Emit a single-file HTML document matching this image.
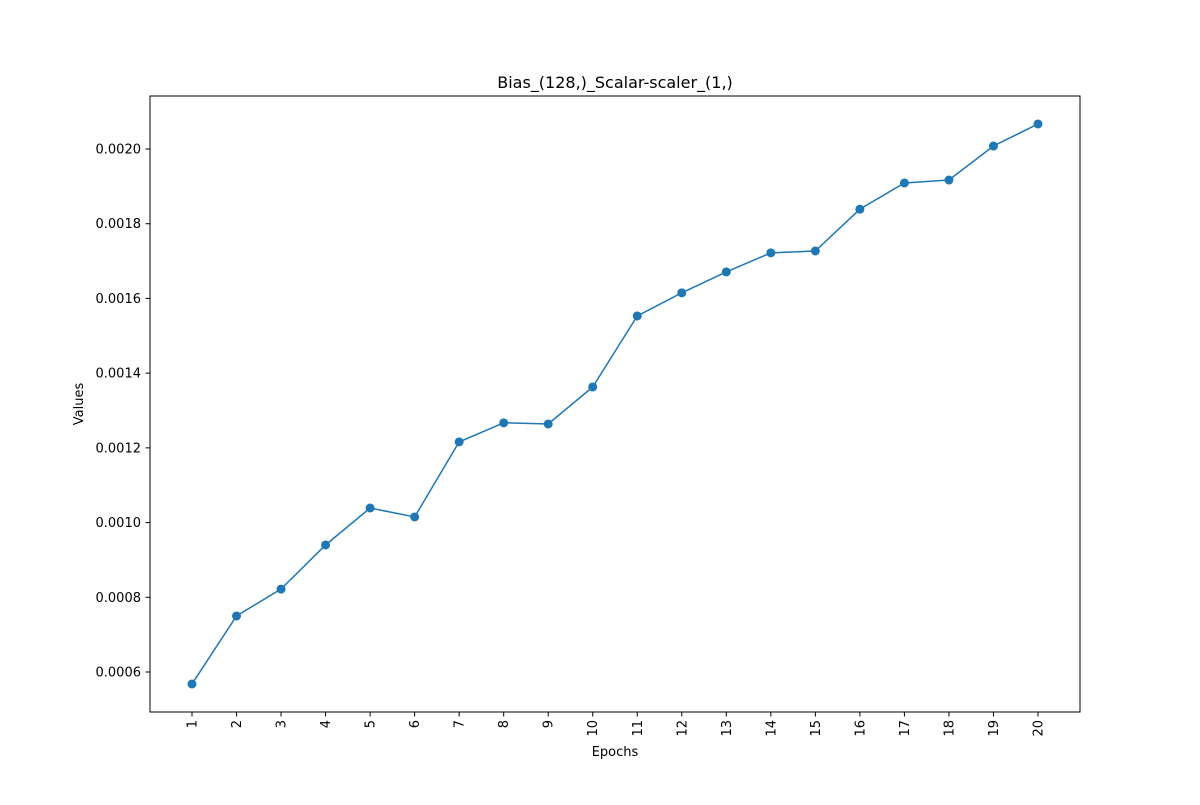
<!DOCTYPE html>
<html><head><meta charset="utf-8"><style>
body{margin:0;background:#fff;}
svg text{font-family:"DejaVu Sans","Liberation Sans",sans-serif;fill:#000;}
</style></head><body>
<svg id="chart" width="1200" height="800" xmlns="http://www.w3.org/2000/svg">
<rect width="1200" height="800" fill="#fff"/>
<text x="615" y="88" font-size="16" text-anchor="middle">Bias_(128,)_Scalar-scaler_(1,)</text>
<text x="615" y="756" font-size="13" text-anchor="middle">Epochs</text>
<text x="83" y="404" font-size="13" text-anchor="middle" transform="rotate(-90 83 404)">Values</text>
<g id="axes"></g>
<rect x="150" y="96" width="930" height="616" fill="none" stroke="#000" stroke-width="1"/>
</svg>
<script>
const epochs = [1,2,3,4,5,6,7,8,9,10,11,12,13,14,15,16,17,18,19,20];
const values = [0.000568,0.000750,0.000822,0.000940,0.001039,0.001015,0.001216,0.001267,0.001264,0.001363,0.001553,0.001615,0.001671,0.001722,0.001727,0.001839,0.001909,0.001917,0.002008,0.002067];
const yTicks = [0.0006,0.0008,0.0010,0.0012,0.0014,0.0016,0.0018,0.0020];
const yTickLabels = ["0.0006","0.0008","0.0010","0.0012","0.0014","0.0016","0.0018","0.0020"];

const NS="http://www.w3.org/2000/svg";
const g=document.getElementById('axes');
function xScale(e){return 192+(e-1)*(1038-192)/19;}
function yScale(v){return 672-(v-0.0006)/0.0002*((672-149)/7);}
function mk(tag,attrs){const el=document.createElementNS(NS,tag);for(const k in attrs)el.setAttribute(k,attrs[k]);g.appendChild(el);return el;}

yTicks.forEach((t,i)=>{
  const y=yScale(t);
  const tk=mk('line',{x1:145.5,x2:150,y1:y,y2:y,stroke:'#000'});
  
  
  const tx=mk('text',{x:141,y:y+4.5,'font-size':13,'text-anchor':'end'});
  
  
  tx.textContent=yTickLabels[i];
});
epochs.forEach(e=>{
  const x=xScale(e);
  const tk=mk('line',{x1:x,x2:x,y1:712,y2:716.5,stroke:'#000'});
  
  
  const tx=mk('text',{x:x+4.5,y:720,'font-size':13,'text-anchor':'end',transform:`rotate(-90 ${x+4.5} 720)`});
  
  
  tx.textContent=String(e);
});
const pts=epochs.map((e,i)=>xScale(e)+','+yScale(values[i])).join(' ');
const line=mk('polyline',{points:pts,fill:'none',stroke:'#1f77b4','stroke-width':1.5});


epochs.forEach((e,i)=>{
  const c=mk('circle',{cx:xScale(e),cy:yScale(values[i]),r:4.5,fill:'#1f77b4'});
  
  
});
</script>
</body></html>
